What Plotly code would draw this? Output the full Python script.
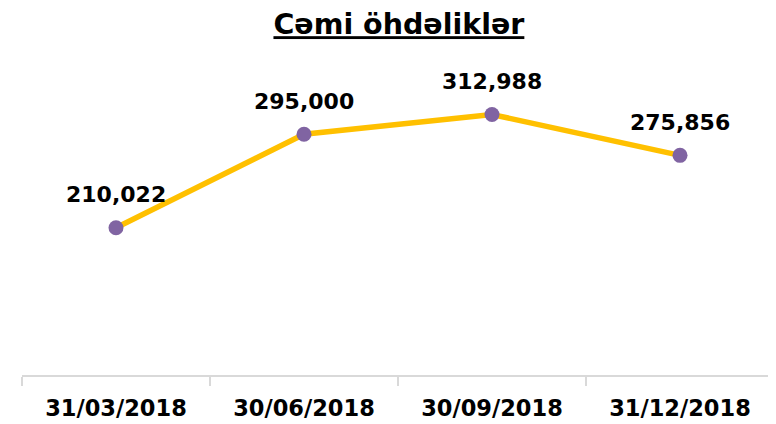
import plotly.graph_objects as go

categories = ["31/03/2018", "30/06/2018", "30/09/2018", "31/12/2018"]
values = [210022, 295000, 312988, 275856]
value_labels = [f"{v:,}" for v in values]
title_text = "Cəmi öhdəliklər"

fig = go.Figure()
fig.add_trace(go.Scatter(
    x=categories,
    y=values,
    mode="lines+markers",
    line=dict(color="#FFC000", width=5.5),
    marker=dict(color="#8064A2", size=15),
    cliponaxis=False,
    hoverinfo="skip",
))

for c, v, t in zip(categories, values, value_labels):
    fig.add_annotation(
        x=c, y=v, text=t, showarrow=False,
        xanchor="center", yanchor="middle", yshift=33,
        font=dict(family="DejaVu Sans", size=22, color="#000000", weight="bold"),
    )

# page body has an 8px margin, so the figure is sized/offset accordingly
fig.update_layout(
    width=768, height=416,
    margin=dict(l=14, r=2, t=52, b=49),
    paper_bgcolor="white", plot_bgcolor="white",
    showlegend=False,
    title=dict(
        text=f"<u>{title_text}</u>",
        x=0.509, xanchor="center",
        y=0.985, yanchor="top",
        font=dict(family="DejaVu Sans", size=28.5, color="#000000", weight="bold"),
    ),
    xaxis=dict(
        type="category",
        range=[-0.5, 3.5],
        showgrid=False, zeroline=False,
        showline=True, linecolor="#D9D9D9", linewidth=1.5,
        ticks="outside", tickson="boundaries", ticklen=9, tickcolor="#D9D9D9", tickwidth=1.5,
        ticklabelstandoff=12,
        tickfont=dict(family="DejaVu Sans", size=22.5, color="#000000", weight="bold"),
    ),
    yaxis=dict(
        range=[76009, 362596],
        visible=False, showgrid=False, zeroline=False,
    ),
)

fig.write_html("out.html")
